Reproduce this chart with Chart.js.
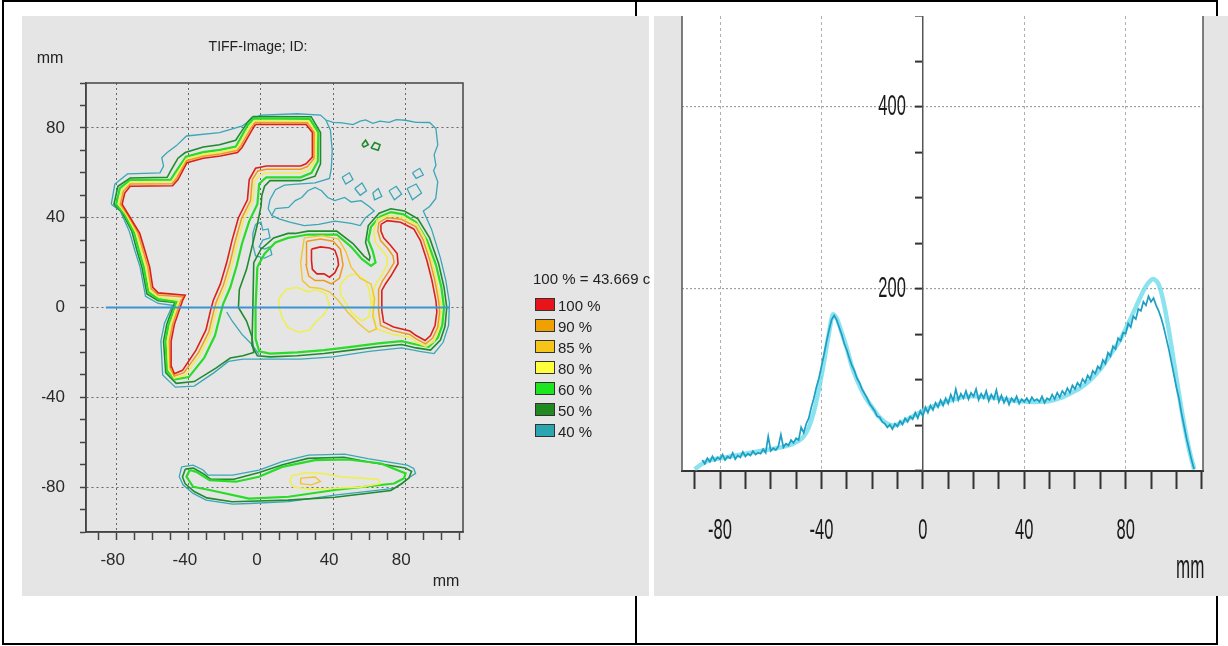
<!DOCTYPE html>
<html><head><meta charset="utf-8">
<script src="https://cdn.jsdelivr.net/npm/chart.js@4.4.1/dist/chart.umd.min.js"></script>
<style>
html,body{margin:0;padding:0;background:#fff;}
body{width:1228px;height:646px;position:relative;overflow:hidden;font-family:"Liberation Sans",Arial,sans-serif;}
.frame{position:absolute;left:2px;top:0;width:1212px;height:641px;border:2px solid #000;}
.divider{position:absolute;left:635px;top:0;width:2px;height:645px;background:#000;}
.panel{position:absolute;top:16px;height:580px;background:#e5e5e5;}
#pl{left:22px;width:627px;}
#pr{left:654px;width:574px;}
canvas{position:absolute;}
.t{position:absolute;color:#222;white-space:nowrap;line-height:1;}
.box{position:absolute;width:20px;height:13px;box-sizing:border-box;border:1px solid #333;}
</style></head>
<body>
<div class="frame"></div>
<div class="divider"></div>
<div class="panel" id="pl"></div>
<div class="panel" id="pr"></div>
<canvas id="map" width="627" height="580" style="left:22px;top:16px;"></canvas>
<canvas id="prof" width="574" height="580" style="left:654px;top:16px;"></canvas>
<div class="t" style="left:258px;top:46px;font-size:14px;transform:translate(-50%,-50%);">TIFF-Image; ID:</div>
<div class="t" style="left:50px;top:58px;font-size:16px;transform:translate(-50%,-50%);">mm</div>
<div class="t" style="left:446px;top:581px;font-size:16px;transform:translate(-50%,-50%);">mm</div>
<div class="t" style="left:533px;top:278px;font-size:15px;transform:translateY(-50%);">100 % = 43.669 c</div>
<div id="legend"></div>
<div class="t" style="left:1176px;top:549px;font-size:34px;color:#1a1a1a;transform:scaleX(0.5);transform-origin:0 0;">mm</div>
<script>
// ---------- isodose map (mm) ----------
const isoLevels = ['100 %', '90 %', '85 %', '80 %', '60 %', '50 %', '40 %'];
const mapTickLabels = [-80, -40, 0, 40, 80];
const profileCut = { y: 0, from: -86, to: 104.5 };

const iso100 = [
  [[-3,81.5],[25,81.5],[28.5,78],[28.5,67],[25,64],[22,63],[3,63],[-3,62],[-6.5,57],[-7.5,48],[-12.5,40],[-16,30],[-19,20],[-22.5,10.5],[-26.5,3],[-28,-1.5],[-30.5,-10],[-36,-19],[-43.5,-28],[-48,-29.5],[-49.5,-26.5],[-49.8,-15],[-48,-7.5],[-43.5,3],[-42,5.5],[-57,6.5],[-60,9],[-61.7,18],[-64.4,25.5],[-67.2,33],[-72.7,40.3],[-77,46],[-75.5,51],[-72.5,54],[-49,54.2],[-46,57],[-41,64.5],[-32,66.5],[-22.5,67.5],[-13,69],[-10.5,71.3],[-5,79],[-3,81.5]],
  [[66.5,37],[70,38.7],[77.4,38],[84.7,35],[88.4,29.8],[92,20.9],[94.8,12],[97,3],[97.5,-2],[96.5,-8],[94,-12.5],[91,-14.7],[86,-12.5],[82.6,-10.5],[73.5,-8.7],[68,-6.5],[67,-1.3],[67,7.6],[69,10.5],[72,14],[76,19.5],[75.5,24],[72,27.5],[68,31],[66.5,34],[66.5,37]],
  [[28,26],[33,27],[38,26.5],[41,25.5],[42.5,22],[43,19],[41,15.5],[38,13.5],[35,15],[31,15],[28.5,17],[28,21],[28,26]]
];
const iso90 = [
  [[-3.3,82.4],[25.7,82.3],[29.5,78],[29.4,66.4],[25.8,62.8],[22,61.6],[3,61.6],[-1.8,60.8],[-4.8,57],[-5.8,47.6],[-10.8,39.5],[-14.3,29.5],[-17.3,19.5],[-20.8,10],[-24.8,2.5],[-26.3,-2],[-28.9,-10.8],[-34.6,-20],[-42.7,-29],[-48,-30.5],[-50.4,-27],[-50.8,-15],[-49,-7.5],[-44.5,3],[-42.8,4.7],[-57,5.6],[-60.8,8.3],[-62.7,18],[-65.4,25.5],[-68.2,33.2],[-73.6,40.8],[-78,46],[-76.3,51.7],[-72.5,55],[-49.3,55.1],[-46.7,57.7],[-41.2,65.4],[-32,67.4],[-22.6,68.4],[-13.3,69.9],[-11.2,72],[-5.7,79.7],[-3.3,82.4]],
  [[65.3,37.8],[70,40],[77.8,39.3],[85.8,36],[89.8,30.4],[93.5,21.3],[96.3,12.3],[98.5,3],[99,-2],[98,-8.7],[95.2,-13.6],[91.3,-16.2],[86,-14],[82.5,-12],[73,-10.3],[66.3,-8],[65.2,-1.3],[65.2,8],[67.3,11.8],[70.4,15.4],[73.8,20],[73.2,23],[70.3,26.3],[66.3,29.8],[64.8,34],[65.3,37.8]],
  [[25.5,29.5],[33,30.5],[40,29.5],[44,26],[45.5,19],[43.5,13],[39,10.5],[35,12],[30,12],[26.5,14],[25,19],[25,25],[25.5,29.5]]
];
const iso85 = [
  [[24,31],[34,32],[43,30.5],[47,25],[50,18],[55,13],[61,10.5],[63,4],[62,-4],[64,-9.5],[60,-11],[54,-7],[48,-2],[43,3],[38,7],[33,8.5],[27,9],[23,12],[22,20],[24,31]],
  [[22,-76],[30,-75.5],[33,-77.5],[28,-79],[22,-78.5],[22,-76]]
];
const iso80 = [
  [[-3.5,83.2],[26.3,83],[30.5,78],[30.3,65.8],[27,61.5],[22,60],[3,60],[-0.5,59],[-3.5,56.5],[-4.5,47.5],[-9.5,39.2],[-13,29.2],[-16,19.2],[-19.5,9.7],[-23.5,2.2],[-25,-2.3],[-27.8,-11.2],[-33.7,-21],[-42,-30.2],[-48,-31.4],[-51.2,-27.5],[-51.8,-15],[-50,-7.5],[-45.5,3.3],[-57,4.8],[-61.5,7.6],[-63.7,18],[-66.4,25.5],[-69.2,33.4],[-74.6,41.3],[-79,46],[-77.1,52.4],[-72.5,55.8],[-49.6,56],[-47.4,58.4],[-41.4,66.2],[-32,68.2],[-22.7,69.2],[-13.6,70.7],[-11.9,72.7],[-6.4,80.4],[-3.5,83.2]],
  [[64.5,39.2],[70,41],[78,40.4],[86.5,37],[90.8,31],[94.5,21.5],[97.2,12.5],[99.4,3],[99.8,-2],[98.8,-9],[96,-15],[91.5,-17.3],[86,-15.5],[82.5,-13.2],[73,-12],[64,-9.5],[62,-1.5],[62,7],[64,11],[67,14.5],[70,19],[70,22.5],[67,25.5],[63.5,29],[62.5,34],[64.5,39.2]],
  [[10,4],[14,8],[20,9],[26,7],[31,8],[36,6],[38,1],[35,-3],[31,-6],[27,-10],[21,-11],[15,-9],[12,-5],[10,0],[10,4]],
  [[44,10],[48,14],[53,15],[58,12],[60,8],[61,2],[60,-4],[56,-6],[51,-3],[47,2],[44,6],[44,10]],
  [[17,-75],[25,-73.5],[35,-74],[45,-75.5],[55,-76],[65,-76.5],[66,-78.5],[55,-80],[40,-80.5],[28,-81],[18,-80],[16,-77.5],[17,-75]]
];
const iso60 = [
  [[-4,84.2],[27,84],[31.8,78],[31.5,65],[28,60],[22,58],[3,58],[1.5,57],[-1,55],[-2,46],[-6.5,38.5],[-10.5,28.5],[-13.5,18.5],[-17,9],[-21,1.5],[-22.5,-3],[-25.5,-12.5],[-31.5,-22.5],[-40,-31],[-47.5,-32],[-52,-28.3],[-53,-15],[-51.2,-7.5],[-46.8,2.5],[-57,3.8],[-62.4,6.8],[-65,18],[-67.7,25.5],[-70.5,33.7],[-75.8,41.8],[-80.3,46],[-78.2,53.2],[-72.5,56.8],[-50,57],[-48.2,59.3],[-41.6,67.2],[-32,69.2],[-22.8,70.2],[-13.9,71.7],[-12.6,73.6],[-7.2,81.4],[-4,84.2]],
  [[-2,18],[2,24],[8,29],[15,31],[19,31.5],[26,32.5],[42,32.5],[50,27],[56,21.5],[61,18.5],[63.5,20],[62,25],[59.5,30],[61,36],[66,40.5],[72,42.5],[79,41.5],[86,38],[92,30],[97,19],[100,9],[101.5,0],[100.5,-8],[98,-13.5],[93,-17.5],[86,-16.5],[78,-15],[65,-16],[50,-17.5],[35,-19],[20,-20],[5,-20.5],[-1,-19.5],[-3,-14],[-3,0],[-2,18]],
  [[-39.5,-72.4],[-35.8,-73.2],[-28.5,-76.9],[-13.9,-77.6],[-1.1,-75.4],[11.7,-71],[30,-68],[48.2,-67.7],[66.5,-69.5],[80.2,-73.9],[79.3,-76.1],[73.8,-78.4],[40.9,-81.3],[15.3,-84.3],[-6.6,-85.1],[-28.5,-81.3],[-37.6,-79.9],[-41.3,-75.4],[-39.5,-72.4]]
];
const iso50 = [
  [[-4.5,85.1],[27.8,85],[33,78],[33,64],[30,58.5],[22,56.5],[5,56.5],[2,54],[0.5,50],[0,45],[-2,37],[-5,27],[-8,17],[-12,8],[-12.5,0],[-8,-6],[-5,-13],[-4,-20],[-10,-21.5],[-17,-22.5],[-25,-27],[-37,-33],[-47,-33.8],[-52.8,-29],[-54,-15],[-52.2,-7.5],[-47.8,2.2],[-57,3],[-63.2,6],[-66,18],[-68.8,25.5],[-71.6,34],[-76.9,42.3],[-81.5,46],[-79.3,54],[-72.5,57.7],[-52,58],[-50,61],[-46,66.5],[-42,69],[-32,71.5],[-23,72.5],[-14,74.5],[-12,77],[-7,83],[-4.5,85.1]],
  [[-4,20],[0,26],[7,31],[15,33],[19,33],[26,34],[42,34],[51,28.5],[57,23],[60,21],[60.5,22.5],[58,29],[59.5,36.5],[65.5,42],[72,44],[79.5,43],[87,39.5],[93.5,31],[98.5,19.5],[101.5,9],[103,0],[102,-8.5],[99.5,-14.5],[94,-19],[86,-18],[78,-16.5],[65,-17.5],[50,-19],[35,-20.5],[20,-21.5],[5,-22],[-2,-21.5],[-5,-17],[-4.5,0],[-4,20]],
  [[-42,-72],[-37.5,-71.5],[-32,-74],[-28,-76.5],[-15,-76.5],[-1,-73.5],[12,-70],[26,-67.2],[46,-66.7],[59,-68.7],[80,-71.5],[83.5,-73],[82,-76],[78,-78.5],[72,-81.5],[41,-84.5],[15,-85.8],[-6.6,-86.3],[-16,-86.5],[-30,-84.8],[-37,-82],[-42,-78.5],[-43.5,-75.5],[-42,-72]],
  [[61,71],[63,73.5],[66,72.5],[65,70],[61,71]],
  [[56,72.5],[58,74.5],[59.5,72.5],[57,71.5],[56,72.5]]
];
const iso40 = [
  [[-83,46],[-81,55],[-74,59.5],[-56,60],[-54,63],[-55,66.7],[-52,69],[-47,72],[-41.3,76.4],[-23,77.9],[-10.2,80.9],[-5,84],[0,85.7],[20,86.3],[33,85.7],[36,83.5],[40,82.5],[45,82.2],[51,81.5],[55,83],[58,83.6],[62,82],[66,83],[71,82.5],[75,83.7],[80,83.4],[86,82.5],[93.5,82.4],[97,79.7],[98,72.4],[96,68],[97,63.3],[95.7,61],[98,56],[96.9,48.6],[93.5,45],[90,43],[94.5,35],[99.5,22],[102.5,12],[104.5,2],[104,-8],[101,-15.5],[96,-20.5],[88,-19.5],[78,-18],[60,-19.5],[40,-22],[22,-23],[5,-23],[-3,-23],[-10,-23],[-18,-24],[-26,-29],[-37,-35],[-47.5,-35.5],[-54.5,-30],[-55.5,-15],[-53.5,-7],[-49,1],[-57,1.8],[-64,5],[-67,18],[-70,25.5],[-73,34],[-78,43],[-83,46]],
  [[36,83.5],[38.5,79],[39.5,70],[39,62],[38,57.5],[30,55.5],[20,55],[13,54.5],[8,52.5],[5,48],[4,44],[6,41]],
  [[-1,-21],[-5,-16.5],[-10.5,-12],[-16,-6],[-19,-2]],
  [[8,44],[15.3,44.6],[19,47.6],[22.6,49],[26,52],[30,53.5],[33.6,52],[37,49],[40.9,47.6],[46.4,49],[50,47],[55.5,47.6],[60,45],[62.8,43],[58,40],[55,36.5],[50,37.5],[41,38.5],[32,37],[24,36.5],[16,38],[10,39.5],[6,41],[8,44]],
  [[-3,37],[0,38],[1,34.5],[4,35],[5,31],[1,30],[-1,27],[2,26],[5,27],[6,23.5],[2,22],[-3,23],[-4.5,28],[-4.5,33],[-3,37]],
  [[45,58],[49,60],[51,57],[47,55],[45,58]],
  [[52,53],[56,55.5],[58.5,52],[55,50],[52,53]],
  [[62,51],[65,53],[67,49.5],[63,48],[62,51]],
  [[71,52],[75,54],[78,50.5],[74,48],[71,52]],
  [[81,53],[86,55],[89,51],[84,48],[81,53]],
  [[84,60],[88,62],[90,59],[86,57.5],[84,60]],
  [[-44,-71],[-37.6,-70.2],[-32.1,-72.4],[-29.4,-74.7],[-15.7,-74.7],[-1.1,-72.4],[11.7,-68.7],[26.3,-65.8],[46.4,-65.3],[59.2,-67.3],[81.1,-70.2],[84.7,-71.7],[85.7,-73.9],[82.9,-75.4],[79.3,-77.6],[73.8,-80.6],[40.9,-83.6],[15.3,-86.5],[-6.6,-87.3],[-15.7,-87.6],[-30.4,-85.8],[-37.6,-82.8],[-43.1,-79.1],[-45.3,-75.4],[-44,-71]]
];

// ---------- profile (mm vs value) ----------
const profileXLabels = [-80, -40, 0, 40, 80];
const profileYLabels = [200, 400];
const profileStart = -87;
const profileStep = 1;
const profileMeasured = [12,8,14,10,16,11,15,13,18,12,16,14,20,13,17,15,21,16,19,17,22,18,20,19,24,20,38,22,25,23,27,40,26,30,28,34,31,36,34,48,42,52,58,70,80,92,102,115,128,142,155,166,171,166,158,150,140,133,124,116,110,102,97,90,85,80,74,70,66,60,59,54,52,48,51,46,52,49,55,51,58,54,60,57,64,58,66,60,70,64,72,67,75,70,78,72,80,74,84,77,90,78,85,80,88,79,86,82,90,78,85,80,88,77,84,79,89,76,83,75,81,73,80,76,82,74,79,76,80,75,81,77,79,76,82,75,80,78,84,79,86,81,88,84,91,86,94,90,97,93,101,97,105,101,110,107,115,112,122,118,130,126,137,134,146,143,152,151,162,158,170,167,178,176,186,182,192,186,190,182,176,168,158,146,134,120,106,92,80,64,50,36,24,12,2];
const smoothX = [-90,-87,-84,-80,-76,-72,-68,-64,-60,-56,-52,-49,-47,-45,-43,-41,-39,-37,-35.5,-34,-32,-30,-28,-26,-24,-22,-20,-18,-16,-14,-12,-10,-8,-6,-4,-2,0,3,6,10,14,18,22,26,30,34,38,42,46,50,54,58,62,66,70,74,78,81,84,87,89,91,93,95,97,99,101,103,105,107];
const smoothY = [2,8,12,14,16,18,20,22,24,26,29,33,38,48,65,90,120,152,172,168,152,135,115,100,88,78,70,62,56,52,50,51,54,57,60,63,66,70,73,77,80,82,82,81,80,78,77,76,76,77,80,85,91,100,112,128,145,162,180,198,207,211,205,185,155,120,85,52,24,2];

// ---------- styles ----------
const isoLineColors = ['#dc1f1c','#f09a1a','#f2c530','#eeee55','#28dc28','#1f8a2e','#3aa6b6'];
const isoLineWidths = [1.6,1.5,1.4,1.6,2.2,1.6,1.3];
const isoBoxColors = ['#e8141a','#f0a000','#f5c518','#ffff3c','#1ee61e','#208a20','#2aa6b0'];

// legend (HTML)
const legendEl = document.getElementById('legend');
isoLevels.forEach((lab, i) => {
  const cy = 304.5 + i * 21;
  const b = document.createElement('div');
  b.className = 'box';
  b.style.left = '535px'; b.style.top = (cy - 6.5) + 'px'; b.style.background = isoBoxColors[i];
  legendEl.appendChild(b);
  const t = document.createElement('div');
  t.className = 't'; t.style.left = '558px'; t.style.top = cy + 'px'; t.style.fontSize = '15px';
  t.style.transform = 'translateY(-50%)'; t.textContent = lab;
  legendEl.appendChild(t);
});

const toPts = arr => arr.map(p => ({ x: p[0], y: p[1] }));
const isoSets = [iso100, iso90, iso85, iso80, iso60, iso50, iso40];
const mapDatasets = [{
  data: [{ x: profileCut.from, y: profileCut.y }, { x: profileCut.to, y: profileCut.y }],
  borderColor: '#3d94d2', borderWidth: 2.2, showLine: true, pointRadius: 0
}];
isoSets.forEach((set, li) => {
  set.forEach(line => {
    mapDatasets.push({
      data: toPts(line), borderColor: isoLineColors[li], borderWidth: isoLineWidths[li],
      showLine: true, pointRadius: 0, tension: 0, fill: false
    });
  });
});

const frameBox = {
  id: 'frameBox',
  afterDraw(chart) {
    const { ctx, chartArea: a } = chart;
    ctx.save(); ctx.strokeStyle = '#444'; ctx.lineWidth = 1.5;
    ctx.strokeRect(a.left, a.top, a.right - a.left, a.bottom - a.top);
    ctx.restore();
  }
};

new Chart(document.getElementById('map'), {
  type: 'scatter',
  data: { datasets: mapDatasets },
  options: {
    responsive: false, animation: false,
    layout: { padding: { left: 20, top: 67, right: 186, bottom: 14 } },
    plugins: { legend: { display: false }, tooltip: { enabled: false } },
    scales: {
      x: {
        type: 'linear', min: -97, max: 112,
        afterFit: s => { s.height = 50; },
        ticks: { stepSize: 10, includeBounds: false, padding: 10, labelOffset: -4, maxRotation: 0, autoSkip: false,
          color: '#2a2a2a', font: { family: '"Liberation Sans", Arial, sans-serif', size: 17 },
          callback: v => mapTickLabels.includes(v) ? String(v) : '' },
        grid: { color: c => (c.tick && mapTickLabels.includes(c.tick.value)) ? '#666' : 'rgba(0,0,0,0)',
          lineWidth: 1, tickLength: 8, tickWidth: 1.5, tickColor: '#444' },
        border: { color: '#444', width: 1.5, dash: [2, 3] }
      },
      y: {
        type: 'linear', min: -100, max: 100,
        afterFit: s => { s.width = 44; },
        ticks: { stepSize: 10, includeBounds: false, padding: 15, autoSkip: false,
          color: '#2a2a2a', font: { family: '"Liberation Sans", Arial, sans-serif', size: 17 },
          callback: v => mapTickLabels.includes(v) ? String(v) : '' },
        grid: { color: c => (c.tick && mapTickLabels.includes(c.tick.value)) ? '#666' : 'rgba(0,0,0,0)',
          lineWidth: 1, tickLength: 6, tickWidth: 1.5, tickColor: '#444' },
        border: { color: '#444', width: 1.5, dash: [2, 3] }
      }
    }
  },
  plugins: [frameBox]
});

// ---------- profile chart ----------
const measuredPts = profileMeasured.map((v, i) => ({ x: profileStart + i * profileStep, y: v }));
const smoothPts = smoothX.map((x, i) => ({ x: x, y: smoothY[i] }));

const plotBg = {
  id: 'plotBg',
  beforeDraw(chart) {
    const { ctx, chartArea: a } = chart;
    ctx.save(); ctx.fillStyle = '#fff';
    ctx.fillRect(a.left, a.top, a.right - a.left, a.bottom - a.top);
    ctx.restore();
  }
};
const sideFrame = {
  id: 'sideFrame',
  afterDraw(chart) {
    const { ctx, chartArea: a } = chart;
    ctx.save(); ctx.strokeStyle = '#555'; ctx.lineWidth = 1.5;
    ctx.beginPath();
    ctx.moveTo(a.left, a.top); ctx.lineTo(a.left, a.bottom);
    ctx.moveTo(a.right, a.top); ctx.lineTo(a.right, a.bottom);
    ctx.stroke(); ctx.restore();
  }
};
const squeezedLabels = {
  id: 'squeezedLabels',
  afterDraw(chart) {
    const { ctx, chartArea: a, scales: { x, y } } = chart;
    ctx.save();
    ctx.fillStyle = '#1a1a1a';
    ctx.font = '30px "Liberation Sans", Arial, sans-serif';
    ctx.textBaseline = 'middle';
    ctx.textAlign = 'center';
    profileXLabels.forEach(v => {
      ctx.save(); ctx.translate(x.getPixelForValue(v), a.bottom + 60); ctx.scale(0.55, 1);
      ctx.fillText(String(v), 0, 0); ctx.restore();
    });
    ctx.textAlign = 'right';
    const x0 = x.getPixelForValue(0);
    profileYLabels.forEach(v => {
      ctx.save(); ctx.translate(x0 - 17, y.getPixelForValue(v)); ctx.scale(0.55, 1);
      ctx.fillText(String(v), 0, 0); ctx.restore();
    });
    ctx.restore();
  }
};

new Chart(document.getElementById('prof'), {
  type: 'line',
  data: {
    datasets: [
      { data: measuredPts, borderColor: '#1e9ec2', borderWidth: 1.7, pointRadius: 0, tension: 0 },
      { data: smoothPts, borderColor: 'rgba(110,220,236,0.8)', borderWidth: 4.5, pointRadius: 0, tension: 0.3 }
    ]
  },
  options: {
    responsive: false, animation: false,
    layout: { padding: { left: 28, right: 25, top: 0, bottom: 25 } },
    plugins: { legend: { display: false }, tooltip: { enabled: false } },
    scales: {
      x: {
        type: 'linear', min: -95, max: 110.5,
        afterFit: s => { s.height = 100; },
        ticks: { stepSize: 10, includeBounds: false, display: false },
        grid: { color: c => (c.tick && c.tick.value !== 0 && profileXLabels.includes(c.tick.value)) ? '#b0b0b0' : 'rgba(0,0,0,0)',
          lineWidth: 1, tickLength: 18, tickWidth: 2, tickColor: '#333' },
        border: { color: '#333', width: 2, dash: [3, 3] }
      },
      y: {
        type: 'linear', min: 0, max: 500, position: { x: 0 },
        ticks: { stepSize: 50, display: false },
        grid: { color: c => (c.tick && profileYLabels.includes(c.tick.value)) ? '#a0a0a0' : 'rgba(0,0,0,0)',
          lineWidth: 1.2, tickLength: 7, tickWidth: 2, tickColor: '#333' },
        border: { color: '#555', width: 1.5, dash: [2, 2] }
      }
    }
  },
  plugins: [plotBg, squeezedLabels, sideFrame]
});
</script>
</body></html>
